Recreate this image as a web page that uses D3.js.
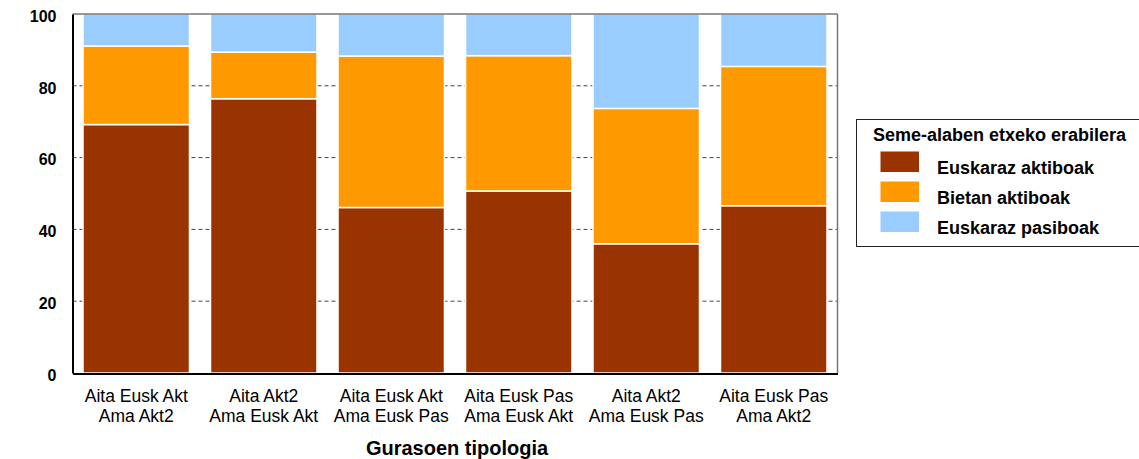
<!DOCTYPE html>
<html>
<head>
<meta charset="utf-8">
<script src="https://cdn.jsdelivr.net/npm/d3@7"></script>
<style>
  html, body { margin: 0; padding: 0; background: #fff; }
  svg { display: block; font-family: "Liberation Sans", Arial, Helvetica, sans-serif; }
</style>
</head>
<body>
<svg id="chart" width="1139" height="459"></svg>
<script>
// Parent typology groups (two-line labels)
const categories = [
  ["Aita Eusk Akt", "Ama Akt2"],
  ["Aita Akt2", "Ama Eusk Akt"],
  ["Aita Eusk Akt", "Ama Eusk Pas"],
  ["Aita Eusk Pas", "Ama Eusk Akt"],
  ["Aita Akt2", "Ama Eusk Pas"],
  ["Aita Eusk Pas", "Ama Akt2"]
];

// Children's home language use, percent of each group
const seriesNames = ["Euskaraz aktiboak", "Bietan aktiboak", "Euskaraz pasiboak"];
const euskarazAktiboak = [69.2, 76.4, 46.1, 50.7, 36.0, 46.6];
const bietanAktiboak   = [21.9, 13.0, 42.2, 37.7, 37.7, 38.8];
const euskarazPasiboak = [ 8.9, 10.6, 11.7, 11.6, 26.3, 14.6];

const yTicks = [0, 20, 40, 60, 80, 100];
const xTitle = "Gurasoen tipologia";
const legendTitle = "Seme-alaben etxeko erabilera";

const colors = ["#993300", "#FF9900", "#99CCFF"];

const svg = d3.select("#chart");
const plot = { left: 72.5, right: 837.5, top: 14, bottom: 373 };

const rows = categories.map((c, i) => ({
  key: i,
  [seriesNames[0]]: euskarazAktiboak[i],
  [seriesNames[1]]: bietanAktiboak[i],
  [seriesNames[2]]: euskarazPasiboak[i]
}));

const x = d3.scaleBand()
  .domain(categories.map((c, i) => i))
  .range([plot.left, plot.right])
  .paddingInner(0.165)
  .paddingOuter(0.0825);

const y = d3.scaleLinear().domain([0, 100]).range([plot.bottom, plot.top]);

// Dashed gridlines
svg.append("g")
  .selectAll("line")
  .data(yTicks.filter(t => t > 0 && t < 100))
  .join("line")
  .attr("x1", plot.left).attr("x2", plot.right)
  .attr("y1", d => y(d)).attr("y2", d => y(d))
  .attr("stroke", "#444")
  .attr("stroke-width", 1)
  .attr("stroke-dasharray", "4,3");

// Stacked bars
const stacked = d3.stack().keys(seriesNames)(rows);
svg.append("g")
  .selectAll("g")
  .data(stacked)
  .join("g")
  .attr("fill", (d, i) => colors[i])
  .selectAll("rect")
  .data(d => d)
  .join("rect")
  .attr("x", d => x(d.data.key))
  .attr("width", x.bandwidth())
  .attr("y", d => y(d[1]))
  .attr("height", d => y(d[0]) - y(d[1]))
  .attr("stroke", "#fff")
  .attr("stroke-width", 1.5);

// Plot frame
svg.append("line")
  .attr("x1", plot.left).attr("x2", plot.right)
  .attr("y1", plot.top).attr("y2", plot.top)
  .attr("stroke", "#333").attr("stroke-width", 1);
svg.append("line")
  .attr("x1", plot.right).attr("x2", plot.right)
  .attr("y1", plot.top).attr("y2", plot.bottom)
  .attr("stroke", "#777").attr("stroke-width", 1.5);

// Y axis
const yAxis = svg.append("g")
  .attr("transform", `translate(${plot.left},0)`)
  .call(d3.axisLeft(y).tickValues(yTicks).tickSize(0).tickPadding(16));
yAxis.select(".domain").attr("stroke", "#000").attr("stroke-width", 2);
yAxis.selectAll("text")
  .attr("font-size", 16)
  .attr("font-weight", "bold")
  .attr("fill", "#000")
  .attr("dy", "0.45em");

// X axis
const xAxis = svg.append("g")
  .attr("transform", `translate(0,${plot.bottom + 0.5})`)
  .call(d3.axisBottom(x).tickSize(0).tickFormat(() => ""));
xAxis.select(".domain").attr("stroke", "#000").attr("stroke-width", 2);
xAxis.selectAll(".tick text").remove();
xAxis.selectAll(".tick")
  .append("text")
  .attr("fill", "#000")
  .attr("font-size", 17.5)
  .attr("text-anchor", "middle")
  .selectAll("tspan")
  .data(d => categories[d])
  .join("tspan")
  .attr("x", 0)
  .attr("y", (d, i) => 28.5 + i * 20)
  .text(d => d);

svg.append("text")
  .attr("x", (plot.left + plot.right) / 2 + 2)
  .attr("y", 455)
  .attr("text-anchor", "middle")
  .attr("font-size", 20)
  .attr("font-weight", "bold")
  .attr("fill", "#000")
  .text(xTitle);

// Legend
const legend = svg.append("g");
legend.append("rect")
  .attr("x", 856.5).attr("y", 119.5)
  .attr("width", 300).attr("height", 127)
  .attr("fill", "#fff")
  .attr("stroke", "#222").attr("stroke-width", 1);
legend.append("text")
  .attr("x", 873).attr("y", 141)
  .attr("font-size", 18).attr("font-weight", "bold").attr("fill", "#000")
  .text(legendTitle);
const items = legend.selectAll("g.item")
  .data(seriesNames)
  .join("g")
  .attr("class", "item")
  .attr("transform", (d, i) => `translate(0,${151.5 + i * 30})`);
items.append("rect")
  .attr("x", 880.5).attr("y", 0)
  .attr("width", 38.5).attr("height", 20.5)
  .attr("fill", (d, i) => colors[i]);
items.append("text")
  .attr("x", 937).attr("y", 22.5)
  .attr("font-size", 18).attr("font-weight", "bold").attr("fill", "#000")
  .text(d => d);
</script>
</body>
</html>
